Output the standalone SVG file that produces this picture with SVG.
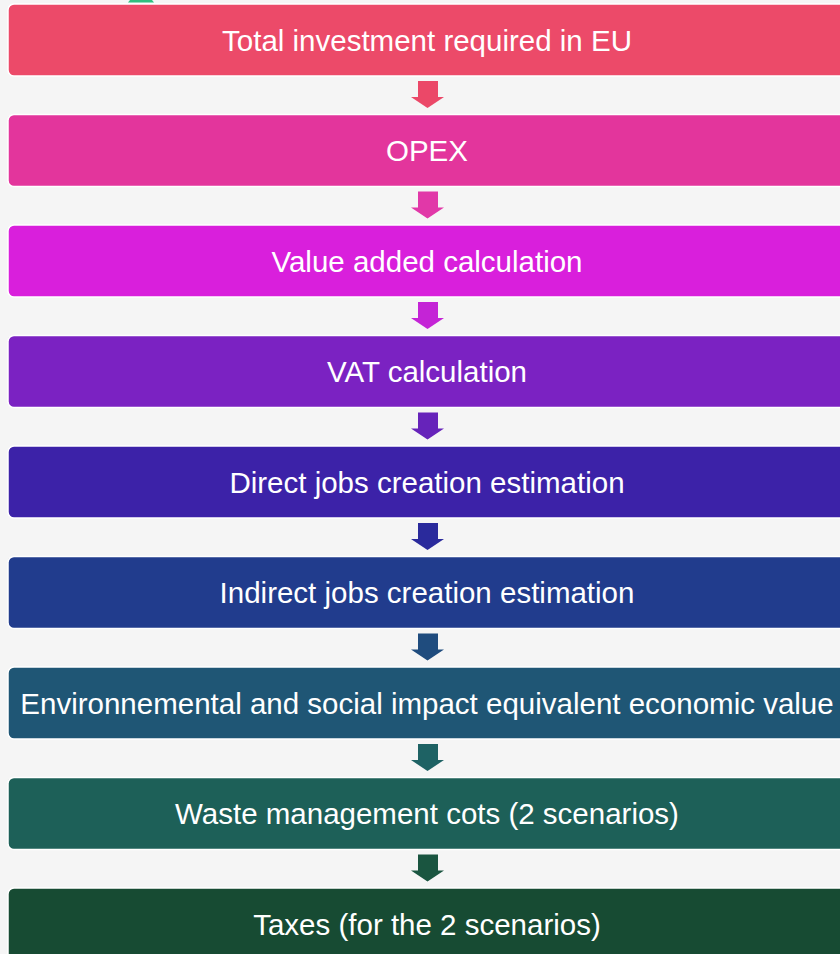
<svg xmlns="http://www.w3.org/2000/svg" width="840" height="954" viewBox="0 0 840 954">
<style>
.box{stroke:#ffffff;stroke-width:1.5}
.lbl{font-family:"Liberation Sans",Arial,sans-serif;font-size:29.5px;fill:#ffffff;text-anchor:middle;dominant-baseline:central}
</style>
<rect x="0" y="0" width="840" height="954" fill="#F5F5F5"/>
<polygon points="130,0 152,0 154,2.5 128,2.5" fill="#2FBF7F"/>
<g id="connectors">
<polygon points="418,81 438,81 438,97 444,97 427.5,108 411,97 418,97" fill="#EB4868"/>
<polygon points="418,191.5 438,191.5 438,207.5 444,207.5 427.5,218.5 411,207.5 418,207.5" fill="#E138A8"/>
<polygon points="418,302 438,302 438,318 444,318 427.5,329 411,318 418,318" fill="#C424D6"/>
<polygon points="418,412.5 438,412.5 438,428.5 444,428.5 427.5,439.5 411,428.5 418,428.5" fill="#6623BA"/>
<polygon points="418,523 438,523 438,539 444,539 427.5,550 411,539 418,539" fill="#2A2A9C"/>
<polygon points="418,633.5 438,633.5 438,649.5 444,649.5 427.5,660.5 411,649.5 418,649.5" fill="#1F4C7E"/>
<polygon points="418,744 438,744 438,760 444,760 427.5,771 411,760 418,760" fill="#1E6264"/>
<polygon points="418,854.5 438,854.5 438,870.5 444,870.5 427.5,881.5 411,870.5 418,870.5" fill="#1A5540"/>
</g>
<g id="n1"><rect class="box" x="8" y="4" width="840" height="72" rx="6" fill="#EC4A69"/><text class="lbl" x="427" y="40">Total investment required in EU</text></g>
<g id="n2"><rect class="box" x="8" y="114.5" width="840" height="72" rx="6" fill="#E3359C"/><text class="lbl" x="427" y="150.5">OPEX</text></g>
<g id="n3"><rect class="box" x="8" y="225" width="840" height="72" rx="6" fill="#D91FDC"/><text class="lbl" x="427" y="261">Value added calculation</text></g>
<g id="n4"><rect class="box" x="8" y="335.5" width="840" height="72" rx="6" fill="#7B22C2"/><text class="lbl" x="427" y="371.5">VAT calculation</text></g>
<g id="n5"><rect class="box" x="8" y="446" width="840" height="72" rx="6" fill="#3C22A8"/><text class="lbl" x="427" y="482">Direct jobs creation estimation</text></g>
<g id="n6"><rect class="box" x="8" y="556.5" width="840" height="72" rx="6" fill="#213C8D"/><text class="lbl" x="427" y="592.5">Indirect jobs creation estimation</text></g>
<g id="n7"><rect class="box" x="8" y="667" width="840" height="72" rx="6" fill="#1F5675"/><text class="lbl" x="427" y="703">Environnemental and social impact equivalent economic value</text></g>
<g id="n8"><rect class="box" x="8" y="777.5" width="840" height="72" rx="6" fill="#1D6058"/><text class="lbl" x="427" y="813.5">Waste management cots (2 scenarios)</text></g>
<g id="n9"><rect class="box" x="8" y="888" width="840" height="72" rx="6" fill="#174B33"/><text class="lbl" x="427" y="924">Taxes (for the 2 scenarios)</text></g>
</svg>
